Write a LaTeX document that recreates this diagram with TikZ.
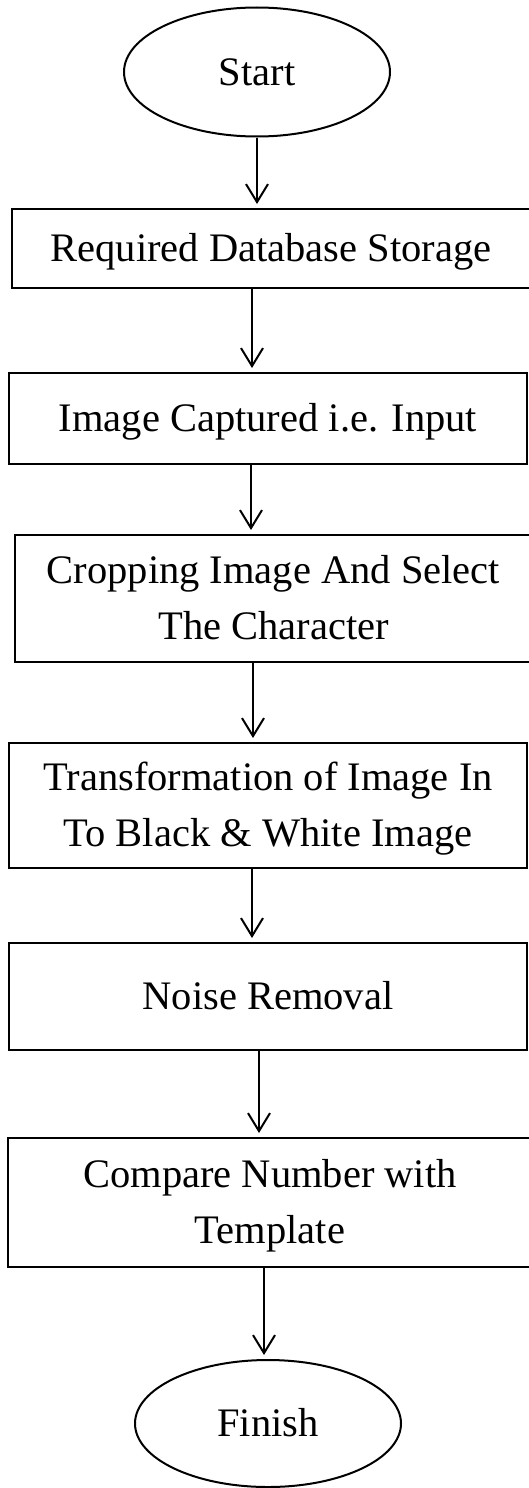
\documentclass[tikz,border=0pt]{standalone}
\usepackage{fontspec}
\setmainfont{Liberation Serif}
\usetikzlibrary{shapes.geometric,arrows.meta}
\begin{document}
\begin{tikzpicture}[x=1pt,y=-1pt,
  base/.style={draw=black,line width=2pt,inner sep=0pt,
    font=\fontsize{40.5pt}{56pt}\selectfont,align=center,
    text height=26pt,text depth=0pt},
  twoline/.style={text height=82pt},
  term/.style={base,ellipse,minimum width=266pt},
  stepbox/.style={base,rectangle},
  arr/.style={line width=2pt,-{Straight Barb[length=18pt,width=22pt]},shorten >=4pt}]
\useasboundingbox (0,0) rectangle (528,1488);
\node[term,minimum height=129pt] (start) at (257,72) {Start};
\node[stepbox,minimum width=518pt,minimum height=79pt] (b1) at (271,248.5) {Required Database Storage};
\node[stepbox,minimum width=518pt,minimum height=91pt] (b2) at (268,418.5) {Image Captured i.e. Input};
\node[stepbox,twoline,minimum width=517pt,minimum height=127pt] (b3) at (273.5,598.5) {Cropping Image And Select\\The Character};
\node[stepbox,twoline,minimum width=518pt,minimum height=125pt] (b4) at (268,805.5) {Transformation of Image In\\To Black \& White Image};
\node[stepbox,minimum width=518pt,minimum height=107pt] (b5) at (268,996.5) {Noise Removal};
\node[stepbox,twoline,minimum width=524pt,minimum height=129pt] (b6) at (270,1202.5) {Compare Number with\\Template};
\node[term,minimum height=127pt] (finish) at (268,1423.5) {Finish};
\draw[arr] (start.south) -- (start.south |- b1.north);
\draw[arr] ([xshift=-19pt]b1.south) -- ([xshift=-19pt]b1.south |- b2.north);
\draw[arr] ([xshift=-17pt]b2.south) -- ([xshift=-17pt]b2.south |- b3.north);
\draw[arr] ([xshift=-20.5pt]b3.south) -- ([xshift=-20.5pt]b3.south |- b4.north);
\draw[arr] ([xshift=-16pt]b4.south) -- ([xshift=-16pt]b4.south |- b5.north);
\draw[arr] ([xshift=-9pt]b5.south) -- ([xshift=-9pt]b5.south |- b6.north);
\draw[arr] ([xshift=-6pt]b6.south) -- ([xshift=-6pt]b6.south |- finish.north);
\end{tikzpicture}
\end{document}
